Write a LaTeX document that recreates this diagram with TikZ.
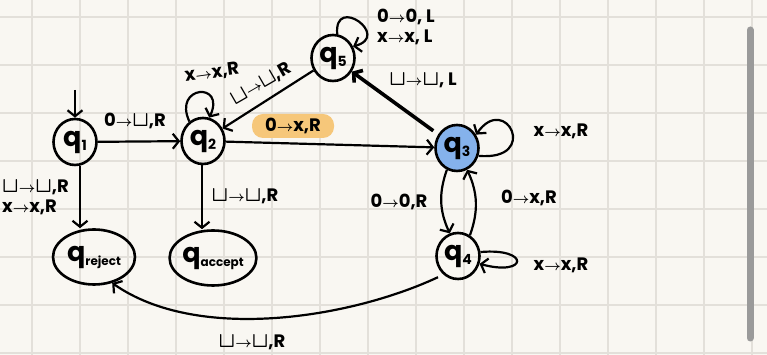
\documentclass[tikz,border=0pt]{standalone}
\usepackage{fontspec}
\setmainfont{Poppins}
\usetikzlibrary{arrows.meta,shapes.geometric}
\usepackage{amsmath,bm}
\definecolor{paper}{HTML}{F9F7F2}
\definecolor{gridc}{HTML}{E3E0DA}
\definecolor{qblue}{HTML}{85B2EC}
\definecolor{hlc}{HTML}{F6C77A}
\definecolor{barc}{HTML}{9A9A9A}
\newcommand{\tarr}{{\fontsize{14}{14}\selectfont$\boldsymbol{\rightarrow}$}}
\newcommand{\blnk}{\scalebox{1.25}{\ensuremath{\boldsymbol{\sqcup}}}}
\newcommand{\stname}[2]{{\fontsize{27}{27}\selectfont q}\raisebox{-4pt}{\fontsize{#2}{#2}\selectfont #1}}
\begin{document}
\begin{tikzpicture}[x=1pt,y=1pt,
  state/.style={ellipse, draw, line width=2.6pt, minimum width=43pt, minimum height=46pt, inner sep=0pt, font=\bfseries},
  bigstate/.style={ellipse, draw, line width=2.6pt, minimum width=82pt, minimum height=55pt, inner sep=0pt, font=\bfseries},
  tipd/.style={-{Straight Barb[length=6pt,width=15pt]}},
  edgeline/.style={line width=2.2pt, tipd},
  lbl/.style={font=\fontsize{18}{20}\selectfont\bfseries, inner sep=1pt}]
\fill[paper] (0,0) rectangle (767,355);
\useasboundingbox (0,0) rectangle (767,355);
\foreach \x in {32,80,...,752} \draw[gridc, line width=1.3pt] (\x,0) -- (\x,355);
\foreach \y in {2,50,...,338} \draw[gridc, line width=1.3pt] (0,\y) -- (767,\y);
\draw[barc, line width=7pt, line cap=round] (750,325) -- (750,17);

% states
\node[state] (q1) at (75,213) {\stname{1}{14}};
\node[state] (q2) at (203,214) {\stname{2}{14}};
\node[state] (q5) at (333,297) {\stname{5}{14}};
\node[state, fill=qblue] (q3) at (457,207) {\stname{3}{14}};
\node[state] (q4) at (458,99) {\stname{4}{14}};
\node[bigstate] (qr) at (94,98) {\stname{reject}{12}};
\node[bigstate] (qa) at (213,97) {\stname{accept}{12}};

% start
\coordinate (start) at (75,265);
\draw[edgeline] (start) -- (q1);

% q1 -> q2
\draw[edgeline] (q1) -- (q2);
\node[lbl] (l12) at (135,234) {0\tarr\blnk,R};

% q1 -> reject
\draw[edgeline] ([xshift=5pt]q1.south) -- ([xshift=-14pt]qr.north);
\node[lbl, align=left, anchor=west] (l1r) at (1,158) {\blnk\tarr\blnk,R\\x\tarr x,R};

% q2 -> accept
\draw[edgeline] ([xshift=-1pt]q2.south) -- ([xshift=-11pt]qa.north);
\node[lbl] (l2a) at (245,159) {\blnk\tarr\blnk,R};

% q2 loop
\draw[edgeline] (q2.125) .. controls +(115:40) and +(65:40) .. (q2.75);
\node[lbl, rotate=8] (l22) at (212,282) {x\tarr x,R};

% q2 -> q3
\node[fill=hlc, rounded corners=11pt, minimum width=82pt, minimum height=24pt, inner sep=0pt, font=\fontsize{18}{20}\selectfont\bfseries] (l23) at (293,229) {0\tarr x,R};
\draw[edgeline] (q2) -- (q3);

% q5 -> q2
\draw[edgeline] (q5) -- (q2);
\node[lbl, rotate=30] (l52) at (261,271) {\blnk\tarr\blnk,R};

% q3 -> q5
\draw[line width=3.6pt, tipd, shorten <=6pt] (q3) -- (q5);
\node[lbl] (l35) at (423,275) {\blnk\tarr\blnk, L};

% q5 loop
\draw[edgeline] (q5.80) .. controls +(95:40) and +(15:40) .. (q5.30);
\node[lbl, align=left, anchor=west] (l55) at (376,328) {0\tarr 0, L\\x\tarr x, L};

% q3 loop
\draw[edgeline] (q3.-20) .. controls +(-5:62) and +(55:52) .. (q3.35);
\node[lbl] (l33) at (561,224) {x\tarr x,R};

% q3 -> q4 and back
\draw[edgeline] (q3.245) to[bend right=22] (q4.110);
\node[lbl] (l34) at (399,153) {0\tarr 0,R};
\draw[edgeline] (q4.60) to[bend right=22] (q3.-65);
\node[lbl] (l43) at (529,157) {0\tarr x,R};

% q4 loop
\draw[edgeline] (q4.10) .. controls +(5:50) and +(-15:50) .. (q4.-20);
\node[lbl] (l44) at (561,90) {x\tarr x,R};

% q4 -> reject
\draw[edgeline, shorten <=6pt] (q4.232) to[out=205, in=-35, looseness=0.8] (qr.-55);
\node[lbl] (l4r) at (252,13) {\blnk\tarr\blnk,R};
\end{tikzpicture}
\end{document}
